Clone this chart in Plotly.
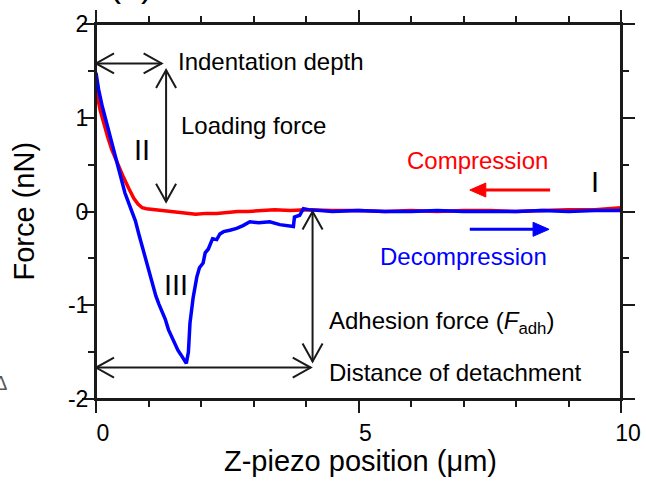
import plotly.graph_objects as go

# ---------------- data ----------------
compression_x = [0.00, 0.03, 0.08, 0.15, 0.22, 0.30, 0.40, 0.52, 0.62, 0.72, 0.80, 0.88,
                 0.96, 1.10, 1.30, 1.50, 1.70, 1.90, 2.10, 2.30, 2.50, 2.70, 2.90, 3.10,
                 3.40, 3.70, 4.00, 4.50, 5.00, 5.50, 6.00, 6.50, 7.00, 7.50, 8.00, 8.50,
                 9.00, 9.50, 10.00]
compression_y = [1.38, 1.22, 1.08, 0.93, 0.80, 0.66, 0.52, 0.37, 0.25, 0.14, 0.08, 0.04,
                 0.03, 0.02, 0.01, 0.00, -0.02, -0.03, -0.02, -0.02, -0.01, 0.00, 0.00, 0.01,
                 0.02, 0.01, 0.02, 0.01, 0.01, 0.00, 0.01, 0.00, 0.01, 0.01, 0.00, 0.01,
                 0.02, 0.02, 0.04]

decompression_x = [0.00, 0.05, 0.12, 0.20, 0.27, 0.35, 0.45, 0.55, 0.65, 0.75, 0.82, 0.90,
                   0.98, 1.06, 1.14, 1.20, 1.25, 1.32, 1.38, 1.44, 1.50, 1.56, 1.62, 1.68,
                   1.72, 1.76, 1.79, 1.85, 1.92, 1.97, 2.04, 2.08, 2.14, 2.22, 2.30, 2.36,
                   2.43, 2.55, 2.68, 2.80, 2.93, 3.10, 3.31, 3.50, 3.69, 3.76, 3.78, 3.88,
                   3.95, 4.05, 4.50, 5.00, 5.50, 6.00, 6.50, 7.00, 7.50, 8.00, 8.50, 9.00,
                   9.50, 10.00]
decompression_y = [1.48, 1.30, 1.12, 0.95, 0.80, 0.62, 0.40, 0.20, 0.05, -0.10, -0.25, -0.42,
                   -0.58, -0.74, -0.90, -0.99, -1.05, -1.15, -1.26, -1.34, -1.42, -1.48, -1.53, -1.58,
                   -1.62, -1.50, -1.19, -0.92, -0.70, -0.60, -0.55, -0.44, -0.40, -0.29, -0.30, -0.24,
                   -0.215, -0.20, -0.18, -0.15, -0.11, -0.12, -0.11, -0.14, -0.16, -0.16, -0.06, -0.04,
                   0.03, 0.02, 0.00, 0.01, 0.00, 0.00, 0.01, 0.00, 0.00, 0.00, 0.01, 0.00,
                   0.01, 0.01]

x_tick_vals = [0, 5, 10]
x_tick_text = ["0", "5", "10"]
y_tick_vals = [-2, -1, 0, 1, 2]
y_tick_text = ["-2", "-1", "0", "1", "2"]

x_title = "Z-piezo position (\u03bcm)"
y_title = "Force (nN)"

# ---------------- layout geometry ----------------
W, H = 646, 484
PAGE_OFF = 0                      # body margin removed via post_script below
PLOT_L, PLOT_R, PLOT_T, PLOT_B = 96, 621, 24, 399   # wanted plot box on screen
ML = PLOT_L - PAGE_OFF
MT = PLOT_T - PAGE_OFF
MR = W - (PLOT_R - PAGE_OFF)
MB = H - (PLOT_B - PAGE_OFF)
PW, PH = W - ML - MR, H - MT - MB
X_RANGE = (0, 10)
Y_RANGE = (-2, 2)
FONT = "Liberation Sans, Arial, Helvetica, sans-serif"
INK = "#1a1a1a"


def scr(sx, sy):
    """screen pixel -> paper coordinates"""
    return (sx - PLOT_L) / PW, (PLOT_B - sy) / PH


def to_px(x, y):
    """data -> pixel offset from lower-left corner of the plot area"""
    return ((x - X_RANGE[0]) / (X_RANGE[1] - X_RANGE[0]) * PW,
            (y - Y_RANGE[0]) / (Y_RANGE[1] - Y_RANGE[0]) * PH)


def path_str(points, close=False):
    s = "M " + " L ".join(f"{p[0] / PW:.5f},{p[1] / PH:.5f}" for p in points)
    return s + (" Z" if close else "")


def head_points(tip, back, length, half):
    dx, dy = tip[0] - back[0], tip[1] - back[1]
    n = (dx * dx + dy * dy) ** 0.5
    ux, uy = dx / n, dy / n
    bx, by = tip[0] - ux * length, tip[1] - uy * length
    return (bx - uy * half, by + ux * half), tip, (bx + uy * half, by - ux * half), (bx, by)


def pshape(**kw):
    d = dict(xref="paper", yref="paper", layer="above")
    d.update(kw)
    return d


def double_arrow(x0, y0, x1, y1, width=2, length=18, half=10):
    p0, p1 = to_px(x0, y0), to_px(x1, y1)
    out = [pshape(type="line", x0=p0[0] / PW, y0=p0[1] / PH, x1=p1[0] / PW, y1=p1[1] / PH,
                  line=dict(color=INK, width=width))]
    for tip, back in ((p0, p1), (p1, p0)):
        a, t, b, _ = head_points(tip, back, length, half)
        out.append(pshape(type="path", path=path_str([a, t, b]),
                          line=dict(color=INK, width=width)))
    return out


def filled_arrow(xt, yt, xh, yh, color, width=3, length=16, half=7):
    pt, ph = to_px(xt, yt), to_px(xh, yh)
    a, t, b, base = head_points(ph, pt, length, half)
    return [pshape(type="line", x0=pt[0] / PW, y0=pt[1] / PH, x1=base[0] / PW, y1=base[1] / PH,
                   line=dict(color=color, width=width)),
            pshape(type="path", path=path_str([a, t, b], close=True),
                   fillcolor=color, line=dict(color=color, width=1))]


fig = go.Figure()
fig.add_trace(go.Scatter(x=compression_x, y=compression_y, mode="lines",
                         line=dict(color="#ff0000", width=3.5), name="Compression",
                         showlegend=False))
fig.add_trace(go.Scatter(x=decompression_x, y=decompression_y, mode="lines",
                         line=dict(color="#0000ff", width=3.5), name="Decompression",
                         showlegend=False))

shapes = []
# frame with overhanging ends
EXT = 11
shapes.append(pshape(type="line", x0=0, x1=0, y0=-EXT / PH, y1=1 + EXT / PH, line=dict(color=INK, width=2)))
shapes.append(pshape(type="line", x0=1, x1=1, y0=-EXT / PH, y1=1 + EXT / PH, line=dict(color=INK, width=2)))
shapes.append(pshape(type="line", x0=0, x1=1 + EXT / PW, y0=1, y1=1, line=dict(color=INK, width=2)))
shapes.append(pshape(type="line", x0=0, x1=1 + EXT / PW, y0=0, y1=0, line=dict(color=INK, width=2)))

# annotation arrows
shapes += double_arrow(0.0, 1.58, 1.25, 1.58)          # indentation depth
shapes += double_arrow(1.335, 1.51, 1.335, 0.105)      # loading force
shapes += double_arrow(4.125, 0.0, 4.125, -1.60)       # adhesion force
shapes += double_arrow(0.0, -1.665, 4.09, -1.665)      # distance of detachment
shapes += filled_arrow(8.65, 0.229, 7.12, 0.229, "#ff0000")    # compression direction
shapes += filled_arrow(7.12, -0.19, 8.63, -0.19, "#0000ff")    # decompression direction

annotations = []


def txt(x, y, text, size=24, color="black", xanchor="left", yanchor="middle", ref="data", **kw):
    d = dict(x=x, y=y, text=text, showarrow=False, xanchor=xanchor, yanchor=yanchor,
             font=dict(family=FONT, size=size, color=color))
    if ref == "paper":
        d.update(xref="paper", yref="paper")
    else:
        d.update(xref="x", yref="y")
    d.update(kw)
    annotations.append(d)


txt(1.52, 1.595, "Indentation depth")
txt(1.58, 0.915, "Loading force")
txt(7.27, 0.54, "Compression", color="#ff0000", xanchor="center")
txt(7.0, -0.48, "Decompression", color="#0000ff", xanchor="center")
txt(4.4, -1.185, "Adhesion force (<i>F</i><sub>adh</sub>)")
txt(4.4, -1.715, "Distance of detachment")
txt(0.87, 0.655, "II", size=29, xanchor="center")
txt(1.53, -0.785, "III", size=29, xanchor="center")
txt(9.5, 0.315, "I", size=29, xanchor="center")

# axis titles
xt = scr(360, 461)
txt(xt[0], xt[1], x_title, size=29, xanchor="center", ref="paper")
yt = scr(23, 211.5)
txt(yt[0], yt[1], y_title, size=29, xanchor="center", ref="paper", textangle=-90)
# cropped panel label and cropped glyph at the left edge
at = scr(131, 6)
txt(at[0], at[1], "(a)", size=36, xanchor="center", yanchor="bottom", ref="paper")
dt = scr(0, 383)
txt(dt[0], dt[1], "\u0394", size=20, color="#555555", xanchor="center", ref="paper")

axis_common = dict(showgrid=False, zeroline=False, showline=True, linecolor=INK, linewidth=2,
                   mirror="ticks", ticks="outside", ticklen=12, tickwidth=1.5, tickcolor=INK,
                   tickfont=dict(family=FONT, size=23, color="black"), automargin=False)

fig.update_layout(
    width=W, height=H,
    margin=dict(l=ML, r=MR, t=MT, b=MB, pad=0, autoexpand=False),
    paper_bgcolor="white", plot_bgcolor="white",
    xaxis=dict(range=list(X_RANGE), tickvals=x_tick_vals, ticktext=x_tick_text,
               minor=dict(dtick=1, ticklen=6, tickwidth=1.5, tickcolor=INK, ticks="outside"),
               ticklabelshift=7, **axis_common),
    yaxis=dict(range=list(Y_RANGE), tickvals=y_tick_vals, ticktext=y_tick_text,
               minor=dict(dtick=0.5, ticklen=6, tickwidth=1.5, tickcolor=INK, ticks="outside"),
               ticklabelstandoff=-11, **axis_common),
    shapes=shapes,
    annotations=annotations,
    showlegend=False,
)

fig.write_html("out.html",
               config={"displayModeBar": False},
               post_script="document.body.style.margin='0px';document.body.style.overflow='hidden';")
